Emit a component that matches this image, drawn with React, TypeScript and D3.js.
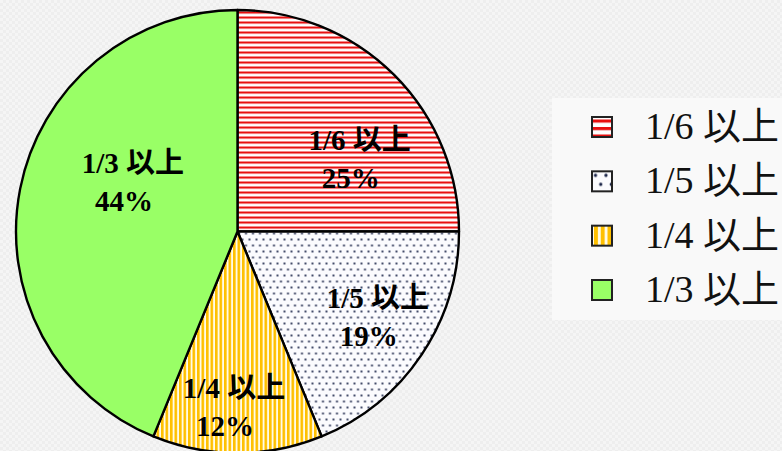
import React, { useEffect, useRef } from 'react';
import * as d3 from 'd3';

// data
const categories = ['1/6 以上', '1/5 以上', '1/4 以上', '1/3 以上'];
const shares = [25, 18.8, 12.4, 43.8];

const W = 782;
const H = 451;
const cx = 237.5;
const cy = 231.5;
const radius = 221.5;

// small hand nudges so labels sit where the original put them
const labelNudge = new Map<string, [number, number]>([
  ['1/6 以上', [8, 37]],
  ['1/5 以上', [7, -1]],
  ['1/4 以上', [-8, 20]],
  ['1/3 以上', [43, -19]],
]);

const serif = "'Liberation Serif', 'Times New Roman', 'Noto Sans CJK JP', serif";

function addPatterns(defs: any, suffix: string, scale: number) {
  const hs = defs.append('pattern')
    .attr('id', 'hstripe' + suffix)
    .attr('patternUnits', 'userSpaceOnUse')
    .attr('width', 8).attr('height', 5)
    .attr('patternTransform', `scale(${scale})`);
  hs.append('rect').attr('width', 8).attr('height', 5).attr('fill', '#ffffff');
  hs.append('rect').attr('y', 0).attr('width', 8).attr('height', 2.1).attr('fill', '#e81010');

  const dots = defs.append('pattern')
    .attr('id', 'dots' + suffix)
    .attr('patternUnits', 'userSpaceOnUse')
    .attr('width', 7).attr('height', 12)
    .attr('patternTransform', `scale(${scale})`);
  dots.append('rect').attr('width', 7).attr('height', 12).attr('fill', '#fbfbfe');
  dots.append('circle').attr('cx', 1.5).attr('cy', 2).attr('r', 1.1).attr('fill', '#1a2448');
  dots.append('circle').attr('cx', 5).attr('cy', 8).attr('r', 1.1).attr('fill', '#1a2448');

  const vs = defs.append('pattern')
    .attr('id', 'vstripe' + suffix)
    .attr('patternUnits', 'userSpaceOnUse')
    .attr('width', 4.5).attr('height', 8)
    .attr('patternTransform', `scale(${scale})`);
  vs.append('rect').attr('width', 4.5).attr('height', 8).attr('fill', '#fffbe8');
  vs.append('rect').attr('x', 0).attr('width', 2.6).attr('height', 8).attr('fill', '#ffc000');
}

export default function App() {
  const ref = useRef<SVGSVGElement>(null);

  useEffect(() => {
    const svg = d3.select(ref.current);
    svg.selectAll('*').remove();
    const defs = svg.append('defs');

    // textured grey backdrop
    const bg = defs.append('pattern')
      .attr('id', 'bg').attr('patternUnits', 'userSpaceOnUse')
      .attr('width', 6).attr('height', 6);
    bg.append('rect').attr('width', 6).attr('height', 6).attr('fill', '#eeeeee');
    bg.append('path').attr('d', 'M0 0h3v3H0zM3 3h3v3H3z').attr('fill', '#f5f5f5');

    addPatterns(defs, '', 1);
    addPatterns(defs, '-lg', 1.5);

    const fills = ['hstripe', 'dots', 'vstripe', null];
    const fillFor = (i: number, suffix: string) =>
      fills[i] ? `url(#${fills[i]}${suffix})` : '#99ff66';

    svg.append('rect').attr('width', W).attr('height', H).attr('fill', 'url(#bg)');

    const pie = d3.pie<number>().sort(null).value((d) => d);
    const arcs = pie(shares);
    const arc = d3.arc<d3.PieArcDatum<number>>().innerRadius(0).outerRadius(radius);
    const labelArc = d3.arc<d3.PieArcDatum<number>>()
      .innerRadius(radius * 0.7).outerRadius(radius * 0.7);

    const g = svg.append('g').attr('transform', `translate(${cx},${cy})`);

    g.selectAll('path.slice')
      .data(arcs)
      .enter()
      .append('path')
      .attr('class', 'slice')
      .attr('d', arc as any)
      .attr('fill', (d, i) => fillFor(i, ''))
      .attr('stroke', '#000')
      .attr('stroke-width', 2.4)
      .attr('stroke-linejoin', 'round');

    const labels = g.selectAll('g.lbl')
      .data(arcs)
      .enter()
      .append('g')
      .attr('class', 'lbl')
      .attr('transform', (d, i) => {
        const [x, y] = labelArc.centroid(d);
        const [nx, ny] = labelNudge.get(categories[i]) || [0, 0];
        return `translate(${x + nx},${y + ny})`;
      })
      .style('font-family', serif)
      .style('font-weight', 'bold')
      .style('font-size', '29px')
      .attr('text-anchor', 'middle')
      .attr('fill', '#000');

    labels.append('text')
      .attr('x', 4.5)
      .attr('y', -9)
      .text((d, i) => categories[i]);
    labels.append('text')
      .attr('x', -4.5)
      .attr('y', 29)
      .text((d) => `${Math.round(d.data)}%`);

    // legend
    const legend = svg.append('g');
    legend.append('rect')
      .attr('x', 552).attr('y', 98)
      .attr('width', 240).attr('height', 222)
      .attr('fill', '#f9f9f9');

    const rowY = d3.scalePoint<string>().domain(categories).range([127, 290]);

    const rows = legend.selectAll('g.row')
      .data(categories)
      .enter()
      .append('g')
      .attr('class', 'row')
      .attr('transform', (d) => `translate(0,${rowY(d)})`);

    rows.append('rect')
      .attr('x', 592).attr('y', -10)
      .attr('width', 20).attr('height', 20)
      .attr('fill', (d, i) => fillFor(i, '-lg'))
      .attr('stroke', '#222')
      .attr('stroke-width', 2);

    rows.append('text')
      .attr('x', 645)
      .attr('y', 12)
      .style('font-family', serif)
      .style('font-size', '38px')
      .attr('fill', '#111')
      .text((d) => d);
  }, []);

  return (
    <svg
      ref={ref}
      width={W}
      height={H}
      style={{ position: 'absolute', left: 0, top: 0, display: 'block' }}
    />
  );
}
